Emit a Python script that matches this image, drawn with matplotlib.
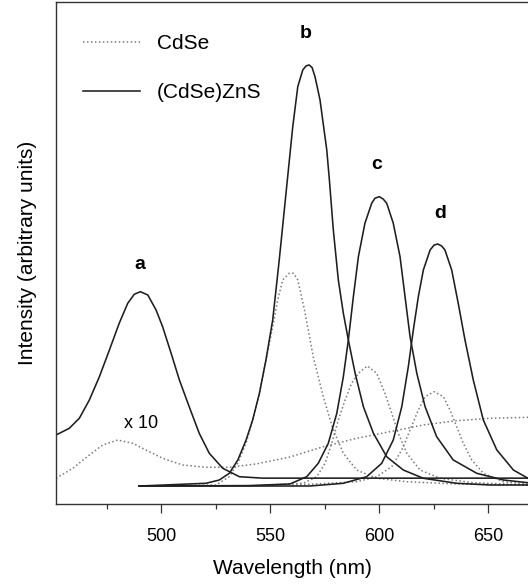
import matplotlib
matplotlib.use("Agg")
import matplotlib.pyplot as plt
from matplotlib.ticker import MultipleLocator

plt.rcParams['font.family'] = ['Liberation Sans', 'DejaVu Sans']

# emission spectra, wavelength (nm) vs intensity (arbitrary units)
# (CdSe)ZnS core-shell samples a-d
wl_a_shell = [451.7, 457.8, 462.4, 467.0, 471.6, 476.2, 480.7, 484.6, 487.6, 490.4, 493.8,
              497.6, 500.6, 504.5, 508.3, 512.8, 517.4, 522.0, 528.2, 535.8, 546.5, 566.4,
              620.0, 668.2]
int_a_shell = [15.75, 17.28, 19.57, 23.74, 29.06, 35.16, 41.26, 45.82, 47.88, 48.47, 47.72,
               44.29, 40.48, 34.41, 28.31, 22.21, 16.14, 11.58, 8.15, 6.23, 5.9, 5.9,
               5.9, 5.9]

wl_b_shell = [489.8, 520.5, 526.6, 531.2, 535.1, 538.9, 541.9, 545.0, 548.0, 551.1, 554.1,
              557.2, 560.3, 562.6, 564.9, 566.4, 567.8, 569.2, 570.5, 572.8, 575.9, 577.1,
              578.9, 581.2, 583.5, 585.8, 588.9, 592.7, 597.3, 603.4, 611.0, 620.2, 635.5,
              650.8, 668.2]
int_b_shell = [4.1, 4.73, 5.48, 7.01, 10.05, 14.61, 19.18, 25.27, 32.88, 42.01, 55.71,
               70.94, 86.14, 95.27, 99.09, 100.0, 100.23, 99.6, 97.56, 92.24, 80.82, 73.97,
               62.56, 51.14, 43.54, 37.44, 29.84, 22.21, 16.14, 10.78, 7.76, 5.87, 4.73,
               4.34, 4.34]

wl_c_shell = [489.8, 540.0, 559.0, 566.7, 572.0, 576.6, 580.5, 583.5, 585.8, 588.1, 590.4,
              593.4, 596.5, 598.0, 600.0, 601.8, 603.4, 606.4, 609.5, 611.8, 614.1, 617.2,
              621.0, 626.3, 633.9, 644.7, 656.9, 668.2]
int_c_shell = [4.1, 4.2, 4.57, 6.23, 9.29, 13.86, 20.71, 29.06, 37.44, 47.33, 56.46,
               64.09, 68.65, 69.8, 70.16, 69.6, 68.65, 64.09, 56.46, 47.33, 38.2, 29.84,
               22.21, 15.37, 10.05, 7.01, 5.48, 4.86]

wl_d_shell = [489.8, 568.2, 583.5, 594.2, 601.1, 606.4, 610.3, 613.3, 615.6, 617.9, 620.2,
              623.3, 625.1, 626.8, 628.6, 630.1, 633.2, 636.2, 639.3, 643.1, 647.7, 653.9,
              661.5, 668.2]
int_d_shell = [4.1, 4.11, 4.73, 6.23, 9.29, 14.61, 22.21, 31.35, 39.73, 47.33, 53.42,
               57.99, 59.1, 59.36, 58.9, 57.99, 53.42, 45.82, 37.44, 28.31, 19.18, 12.33,
               7.76, 5.87]

# bare CdSe cores (sample a shown x10)
wl_a_core = [451.7, 459.4, 467.0, 473.1, 480.0, 486.9, 493.0, 500.6, 509.8, 520.5, 531.2,
             543.4, 559.0, 574.3, 589.6, 604.9, 620.2, 635.5, 650.8, 668.2]
int_a_core = [5.87, 8.15, 11.19, 13.47, 14.61, 13.86, 12.33, 10.43, 8.9, 8.38, 8.38,
              9.13, 10.73, 13.08, 15.0, 16.51, 18.04, 19.02, 19.57, 19.79]

wl_b_core = [489.8, 525.1, 531.2, 535.1, 538.9, 541.9, 545.0, 548.0, 551.1, 553.4, 555.7,
             558.7, 560.6, 562.6, 565.5, 569.7, 574.3, 578.9, 583.5, 589.6, 598.8, 612.6,
             635.5, 668.2]
int_b_core = [4.1, 4.34, 6.23, 9.36, 13.93, 19.18, 25.34, 32.88, 40.48, 46.58, 51.14,
              52.67, 52.67, 51.14, 44.75, 33.63, 24.5, 16.89, 11.58, 7.76, 5.87, 5.09,
              4.57, 4.34]

wl_c_core = [540.0, 565.1, 571.3, 575.1, 578.2, 581.2, 584.3, 587.3, 590.4, 594.5, 598.8,
             602.6, 605.7, 608.7, 612.6, 618.7, 627.8, 643.1, 668.2]
int_c_core = [4.1, 4.73, 6.23, 9.29, 13.86, 19.18, 23.74, 27.56, 29.84, 31.51, 29.84,
              25.27, 20.71, 16.14, 11.58, 7.76, 5.87, 4.86, 4.34]

wl_d_core = [560.0, 589.6, 598.8, 605.7, 610.3, 614.1, 617.9, 621.0, 625.1, 629.4, 632.4,
             635.5, 638.5, 642.4, 647.7, 656.9, 668.2]
int_d_core = [4.3, 5.09, 6.23, 8.52, 12.33, 16.89, 21.46, 24.5, 25.64, 24.5, 21.46,
              17.65, 13.86, 10.05, 7.01, 5.09, 4.57]

sample_names = ['a', 'b', 'c', 'd']
label_pos = [(490.2, 54.6), (566.4, 107.5), (598.9, 77.4), (627.9, 66.4)]

fig = plt.figure(figsize=(5.28, 5.88), dpi=100)
ax = fig.add_axes([56 / 528, 84 / 588, 1 - 56 / 528, 502 / 588])

dot_style = dict(color='#7a7a7a', lw=1.1, linestyle=(0, (1, 1.6)))
line_style = dict(color='#1e1e1e', lw=1.15, solid_joinstyle='round')

cores = [(wl_a_core, int_a_core), (wl_b_core, int_b_core),
         (wl_c_core, int_c_core), (wl_d_core, int_d_core)]
shells = [(wl_a_shell, int_a_shell), (wl_b_shell, int_b_shell),
          (wl_c_shell, int_c_shell), (wl_d_shell, int_d_shell)]

for i, (x, y) in enumerate(cores):
    ax.plot(x, y, label='CdSe' if i == 0 else None, **dot_style)
for i, (x, y) in enumerate(shells):
    ax.plot(x, y, label='(CdSe)ZnS' if i == 0 else None, **line_style)

for name, (x, y) in zip(sample_names, label_pos):
    ax.text(x, y, name, ha='center', va='center', fontsize=14, fontweight='bold')
ax.text(490.7, 18.3, 'x 10', ha='center', va='center', fontsize=13)

ax.set_xlim(451.7, 668.2)
ax.set_ylim(0, 114.6)
ax.set_yticks([])
ax.xaxis.set_major_locator(MultipleLocator(50))
ax.xaxis.set_minor_locator(MultipleLocator(25))
ax.tick_params(axis='x', which='major', length=6.5, width=0.9, color='#333333',
               labelsize=13, pad=10.5)
ax.tick_params(axis='x', which='minor', length=3.6, width=0.9, color='#333333')

for side in ['left', 'bottom', 'top']:
    ax.spines[side].set_color('#333333')
    ax.spines[side].set_linewidth(1.0)
ax.spines['right'].set_visible(False)

ax.set_xlabel('Wavelength (nm)', fontsize=15, labelpad=10.5)
ax.set_ylabel('Intensity (arbitrary units)', fontsize=15, labelpad=14)

ax.legend(loc='upper left', bbox_to_anchor=(27 / 472, 1 - 32 / 502), frameon=False,
          fontsize=15, handlelength=2.75, handletextpad=0.8, labelspacing=1.45,
          borderpad=0, borderaxespad=0)

fig.savefig('out.png', dpi=100)
